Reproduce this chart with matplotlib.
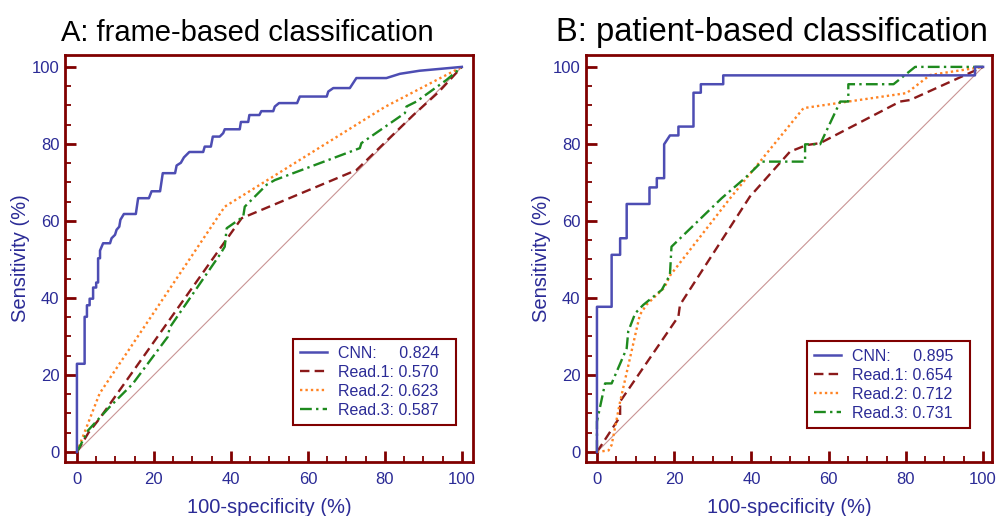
import matplotlib
matplotlib.use("Agg")
import matplotlib.pyplot as plt
from matplotlib.ticker import MultipleLocator

plt.rcParams['font.family'] = ['Liberation Sans', 'DejaVu Sans']

# ---- panel A: frame-based ----
a_cnn_x = [0, 0, 2.0, 2.0, 2.6, 2.6, 3.3, 3.3, 4.2, 4.2, 5.0, 5.0, 5.5, 5.5, 6.0, 6.0,
           6.8, 8.6, 9.0, 9.9, 10.3, 11.0, 11.3, 12.2, 15.3, 15.9, 18.7, 19.4, 21.6, 22.3,
           25.5, 25.9, 27.0, 27.8, 29.2, 32.8, 33.2, 34.8, 35.3, 37.1, 38.0, 38.4, 42.3,
           42.6, 44.5, 44.8, 47.4, 47.9, 51.0, 51.4, 52.5, 57.2, 57.9, 64.9, 65.3, 66.6,
           70.9, 72.6, 80.4, 83.9, 89.0, 100]
a_cnn_y = [0, 22.9, 22.9, 35.1, 35.1, 38.1, 38.1, 39.8, 39.8, 42.7, 42.7, 44.0, 44.0, 50.3,
           50.3, 52.3, 54.2, 54.2, 55.5, 56.4, 57.7, 58.5, 60.3, 61.8, 61.8, 65.9, 65.9,
           67.7, 67.7, 72.4, 72.4, 74.4, 75.1, 76.5, 77.9, 77.9, 79.3, 79.3, 81.9, 81.9,
           82.8, 83.8, 83.8, 85.7, 85.7, 87.5, 87.5, 88.5, 88.5, 89.7, 90.6, 90.6, 92.3,
           92.3, 93.6, 94.5, 94.5, 97.1, 97.1, 98.2, 99.0, 100]
a_r1_x = [0, 3.0, 5.9, 38.0, 42.8, 72.6, 87.4, 94.0, 100]
a_r1_y = [0, 5.0, 8.7, 54.0, 60.7, 73.2, 87.5, 93.5, 100]
a_r2_x = [0, 5.9, 38.4, 80.0, 100]
a_r2_y = [0, 15.2, 63.7, 89.6, 100]
a_r3_x = [0, 2.9, 8.5, 14.5, 23.6, 24.1, 37.1, 38.4, 38.9, 43.2, 43.6, 49.3, 51.4, 73.5,
          73.9, 85.2, 85.6, 88.2, 96.0, 100]
a_r3_y = [0, 5.6, 11.7, 17.7, 29.9, 32.3, 51.2, 53.3, 58.1, 61.1, 63.7, 69.4, 70.6, 78.9,
          80.2, 88.0, 89.7, 91.0, 96.6, 100]
a_auc = ["0.824", "0.570", "0.623", "0.587"]

# ---- panel B: patient-based ----
b_cnn_x = [0, 0, 3.8, 3.8, 6.0, 6.0, 7.7, 7.7, 13.6, 13.6, 15.5, 15.5, 17.4, 17.4, 18.9,
           21.1, 21.1, 25.0, 25.0, 26.9, 26.9, 32.7, 32.7, 97.9, 97.9, 100]
b_cnn_y = [0, 37.7, 37.7, 51.2, 51.2, 55.5, 55.5, 64.4, 64.4, 68.7, 68.7, 71.1, 71.1, 79.9,
           82.2, 82.2, 84.5, 84.5, 93.3, 93.3, 95.5, 95.5, 97.8, 97.8, 100, 100]
b_r1_x = [0, 6.0, 6.0, 21.1, 21.5, 39.6, 50.0, 54.3, 57.8, 78.5, 81.1, 100]
b_r1_y = [0, 9.2, 13.1, 35.2, 38.2, 66.3, 78.0, 79.7, 80.2, 91.0, 91.4, 100]
b_r2_x = [0, 3.0, 3.8, 6.0, 11.1, 12.8, 17.4, 19.0, 34.5, 53.5, 80.2, 86.3, 100]
b_r2_y = [0, 0.4, 1.8, 13.1, 35.6, 38.2, 42.6, 45.9, 65.9, 89.3, 93.2, 97.9, 100]
b_r3_x = [0, 0, 2.1, 3.8, 7.7, 8.1, 9.9, 12.0, 16.8, 18.9, 19.3, 32.3, 38.3, 40.5, 42.7,
          53.9, 53.9, 57.8, 63.0, 65.1, 65.1, 76.8, 82.4, 100]
b_r3_y = [0, 7.9, 17.8, 17.8, 26.9, 31.3, 36.0, 38.2, 42.1, 46.0, 53.3, 65.9, 71.1, 73.2,
          75.4, 75.4, 79.9, 79.9, 91.0, 91.0, 95.5, 95.5, 100, 100]
b_auc = ["0.895", "0.654", "0.712", "0.731"]

names = ["CNN:     ", "Read.1: ", "Read.2: ", "Read.3: "]

frame_col = "#800000"
txt_col = "#2b2b96"
cols = ["#4d4db3", "#8b1a1a", "#ff8424", "#1e8a1e"]
styles = ["-", (0, (4, 2.2)), (0, (1, 1.3)), (0, (5, 1.8, 1, 1.8))]
widths = [1.8, 1.7, 1.7, 1.7]

fig = plt.figure(figsize=(10.03, 5.16), dpi=100)
axA = fig.add_axes([0.0648, 0.1047, 0.4068, 0.7888])
axB = fig.add_axes([0.5842, 0.1047, 0.4048, 0.7888])


def draw(ax, curves, aucs, title, tsize, tx, xlim, ylim, anchor):
    ax.plot([0, 100], [0, 100], color="#c99494", lw=0.8, zorder=1)
    handles = []
    for i, (xs, ys) in enumerate(curves):
        h, = ax.plot(xs, ys, color=cols[i], ls=styles[i], lw=widths[i], zorder=3 + (i == 0),
                     label=names[i] + aucs[i] + "  ", clip_on=False)
        handles.append(h)
    ax.set_xlim(*xlim)
    ax.set_ylim(*ylim)
    ax.xaxis.set_major_locator(MultipleLocator(20))
    ax.yaxis.set_major_locator(MultipleLocator(20))
    ax.xaxis.set_minor_locator(MultipleLocator(5))
    ax.yaxis.set_minor_locator(MultipleLocator(5))
    for s in ax.spines.values():
        s.set_color(frame_col)
        s.set_linewidth(2.0)
    ax.tick_params(which="major", direction="in", length=8, width=2.0, color=frame_col,
                   labelsize=12, labelcolor=txt_col)
    ax.tick_params(which="minor", direction="in", length=4.5, width=1.3, color=frame_col)
    ax.tick_params(axis="x", which="major", pad=7)
    ax.tick_params(axis="y", which="major", pad=4)
    ax.set_xlabel("100-specificity (%)", fontsize=14.5, color=txt_col, labelpad=8)
    ax.set_ylabel("Sensitivity (%)", fontsize=14.5, color=txt_col, labelpad=1)
    ax.set_title(title, loc="left", fontsize=tsize, pad=10, x=tx)
    leg = ax.legend(handles=handles, loc="lower right", bbox_to_anchor=anchor,
                    borderaxespad=0, fontsize=11.5, fancybox=False, framealpha=1,
                    handlelength=1.7, handletextpad=0.7, labelspacing=0.25,
                    borderpad=0.45, labelcolor=txt_col)
    leg.get_frame().set_edgecolor(frame_col)
    leg.get_frame().set_linewidth(1.5)


draw(axA, [(a_cnn_x, a_cnn_y), (a_r1_x, a_r1_y), (a_r2_x, a_r2_y), (a_r3_x, a_r3_y)],
     a_auc, "A: frame-based classification", 21, -0.01,
     (-3.1, 102.9), (-2.6, 103.1), (0.958, 0.091))
draw(axB, [(b_cnn_x, b_cnn_y), (b_r1_x, b_r1_y), (b_r2_x, b_r2_y), (b_r3_x, b_r3_y)],
     b_auc, "B: patient-based classification", 23.5, -0.074,
     (-2.85, 102.3), (-2.6, 103.1), (0.946, 0.084))

fig.savefig("out.png", dpi=100)
